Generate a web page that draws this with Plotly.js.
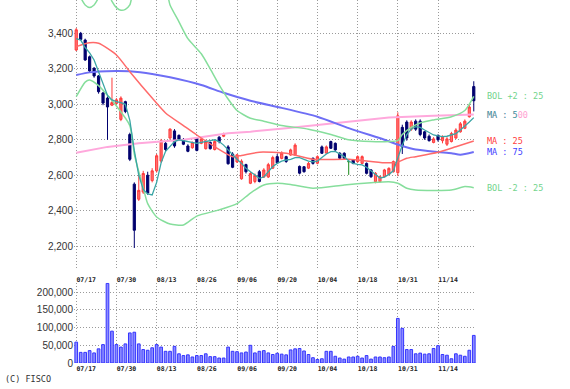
<!DOCTYPE html>
<html><head><meta charset="utf-8">
<script src="https://cdn.plot.ly/plotly-3.0.1.min.js"></script>
<style>html,body{margin:0;padding:0;background:#fff}#chart{width:570px;height:389px}</style>
</head><body><div id="chart"></div>
<script>
// date labels, one every 9 trading days
const tickLabels = ['07/17','07/30','08/13','08/26','09/06','09/20','10/04','10/18','10/31','11/14'];

const openP = [3306,3400,3362,3268,3203,3160,3064,3035,2995,3005,
 2915,3015,2830,2550,2465,2505,2600,2570,2625,2680,
 2780,2810,2850,2825,2800,2765,2755,2810,2780,2750,
 2785,2745,2815,2820,2760,2720,2675,2580,2660,2555,
 2565,2620,2590,2590,2640,2705,2695,2705,2714,2715,
 2650,2648,2640,2696,2668,2760,2725,2790,2780,2724,
 2724,2677,2686,2677,2667,2667,2630,2564,2564,2592,
 2605,2620,2615,2870,2900,2860,2905,2905,2845,2820,
 2785,2825,2795,2775,2790,2810,2845,2865,2930,3100];
const highP = [3430,3408,3370,3275,3210,3165,3070,3045,3150,3035,
 3045,3020,2840,2560,2615,2625,2620,2640,2720,2805,
 2790,2865,2860,2830,2810,2775,2790,2815,2815,2800,
 2790,2800,2820,2840,2770,2730,2720,2690,2665,2620,
 2610,2630,2640,2670,2710,2720,2735,2710,2750,2780,
 2655,2652,2675,2700,2712,2768,2768,2795,2785,2730,
 2730,2686,2690,2712,2712,2672,2635,2618,2598,2636,
 2645,2683,2955,2885,2910,2910,2915,2915,2850,2830,
 2815,2830,2825,2815,2845,2865,2900,2915,3000,3130];
const lowP = [3300,3360,3245,3180,3150,3060,2995,2800,2990,3000,
 2905,2950,2680,2190,2455,2495,2490,2560,2615,2670,
 2735,2800,2755,2795,2770,2730,2750,2735,2775,2745,
 2745,2740,2780,2815,2660,2640,2670,2575,2610,2550,
 2555,2560,2585,2585,2635,2665,2690,2670,2710,2710,
 2605,2615,2635,2660,2662,2720,2720,2748,2738,2690,
 2690,2602,2662,2672,2662,2605,2585,2555,2558,2588,
 2600,2615,2595,2720,2795,2850,2850,2820,2800,2790,
 2780,2790,2780,2765,2785,2805,2840,2860,2925,2960];
const closeP = [3420,3366,3250,3188,3160,3071,3007,2985,3010,3025,
 3035,2960,2690,2290,2515,2610,2500,2625,2710,2795,
 2745,2860,2765,2800,2775,2735,2785,2740,2805,2790,
 2750,2790,2790,2830,2665,2645,2715,2680,2620,2610,
 2600,2565,2630,2660,2700,2670,2725,2678,2743,2770,
 2612,2620,2667,2667,2705,2724,2760,2752,2743,2696,
 2696,2677,2667,2705,2705,2611,2592,2611,2592,2630,
 2639,2677,2935,2760,2810,2900,2860,2830,2810,2795,
 2805,2800,2815,2805,2835,2855,2890,2905,2985,3020];
const volume = [59000,30000,30000,35000,28500,40000,52000,225000,90000,52000,
 45000,54000,85000,87000,54000,38000,36000,43000,52000,45000,
 33000,33000,47000,26000,21000,23000,17000,21000,21000,26000,
 18000,18000,14000,14000,45000,33000,32000,28500,31000,50000,
 28500,33000,35000,28500,24000,27500,25000,23000,37000,40000,
 41000,34000,24000,15000,10000,12000,33000,33000,19000,14000,
 11000,17000,17000,19000,14000,21000,11000,17000,17000,15000,
 17000,47000,126000,98000,38000,38000,26000,28000,25000,26000,
 41000,49000,24000,22000,12000,26000,22000,19000,36000,78000];

// moving average 5 (teal), read at every bar
const ma5 = [3370,3362,3320,3290,3250,3180,3110,3050,3025,3015,
 3010,3000,2910,2740,2600,2520,2495,2489,2560,2670,
 2735,2765,2790,2800,2795,2790,2785,2780,2785,2790,
 2795,2800,2790,2770,2743,2714,2690,2667,2640,2620,
 2600,2583,2590,2620,2649,2667,2680,2686,2690,2700,
 2700,2690,2680,2675,2680,2700,2720,2733,2735,2720,
 2705,2680,2667,2662,2658,2645,2625,2605,2585,2590,
 2605,2625,2700,2770,2830,2860,2874,2870,2855,2840,
 2827,2822,2818,2820,2827,2835,2855,2875,2900,2925];
// moving average 25 (red)
const ma25X = [0,3,5,9,12,17,20,24,27,31,35,37,41,47,53,61,69,72,74,76,81,85,89];
const ma25 = [3325,3347,3344,3278,3184,3035,2951,2880,2827,2761,2705,2712,2730,2724,2690,2690,2670,2675,2696,2705,2730,2761,2793];
// moving average 75 (blue)
const ma75X = [0,3,5,9,12,17,21,28,33,39,46,54,61,69,73,76,81,84,86,89];
const ma75 = [3165,3180,3185,3188,3186,3171,3152,3109,3065,3020,2980,2930,2866,2800,2765,2745,2731,2724,2716,2731];
// moving average 500 (pink)
const ma500X = [0,7,14,24,34,39,47,60,70,80,89];
const ma500 = [2727,2760,2780,2800,2837,2846,2865,2900,2925,2935,2942];
// Bollinger +2 sigma (green)
const bolUpX = [0,1,2,3,4,5,6,7,8,9,10,11,12,13,20,21,23,25,28,30,32,34,36,39,42,46,52,57,61,66,70,72,73,75,77,80,84,87,89];
const bolUp = [3640,3600,3560,3546,3560,3600,3640,3640,3580,3545,3530,3535,3560,3640,3640,3560,3465,3370,3285,3200,3110,3030,2965,2921,2905,2880,2860,2830,2800,2790,2790,2795,2830,2870,2895,2912,2930,2965,3045];
// Bollinger -2 sigma (green)
const bolLoX = [0,2,3,5,9,12,13,14,15,16,18,21,24,27,32,36,39,42,45,48,53,60,66,70,72,74,76,84,87,89];
const bolLo = [3043,3125,3137,3105,2990,2880,2720,2620,2530,2440,2365,2325,2320,2370,2405,2440,2500,2545,2555,2548,2527,2545,2558,2564,2555,2527,2517,2517,2536,2530];

const idx = openP.map((_, i) => i);
const isDoji = i => openP[i] === closeP[i];
const mainIdx = idx.filter(i => !isDoji(i));
const dojiIdx = idx.filter(isDoji);
const pick = (arr, ids) => ids.map(i => arr[i]);

const upRed = '#ff3b3b', downNavy = '#00006e';
const traces = [
  {type:'candlestick', x:mainIdx, open:pick(openP,mainIdx), high:pick(highP,mainIdx), low:pick(lowP,mainIdx), close:pick(closeP,mainIdx),
   xaxis:'x', yaxis:'y', hoverinfo:'skip',
   increasing:{line:{color:upRed, width:1}, fillcolor:'#ff7070'},
   decreasing:{line:{color:downNavy, width:1}, fillcolor:downNavy}},
  {type:'candlestick', x:dojiIdx, open:pick(openP,dojiIdx), high:pick(highP,dojiIdx), low:pick(lowP,dojiIdx), close:pick(closeP,dojiIdx),
   xaxis:'x', yaxis:'y', hoverinfo:'skip',
   increasing:{line:{color:'#1a8a1a', width:1}, fillcolor:'#1a8a1a'},
   decreasing:{line:{color:'#1a8a1a', width:1}, fillcolor:'#1a8a1a'}},
  {type:'scatter', mode:'lines', x:ma500X, y:ma500, line:{color:'#ffa8dc', width:2}, xaxis:'x', yaxis:'y', hoverinfo:'skip'},
  {type:'scatter', mode:'lines', x:ma75X, y:ma75, line:{color:'#6e6ef5', width:2, shape:'spline', smoothing:0.6}, xaxis:'x', yaxis:'y', hoverinfo:'skip'},
  {type:'scatter', mode:'lines', x:ma25X, y:ma25, line:{color:'#ff6a6a', width:1.5, shape:'spline', smoothing:0.6}, xaxis:'x', yaxis:'y', hoverinfo:'skip'},
  {type:'scatter', mode:'lines', x:bolUpX, y:bolUp, line:{color:'#86de9c', width:1.5, shape:'spline', smoothing:0.6}, xaxis:'x', yaxis:'y', hoverinfo:'skip'},
  {type:'scatter', mode:'lines', x:bolLoX, y:bolLo, line:{color:'#86de9c', width:1.5, shape:'spline', smoothing:0.6}, xaxis:'x', yaxis:'y', hoverinfo:'skip'},
  {type:'scatter', mode:'lines', x:idx, y:ma5, line:{color:'#3aa5a5', width:1.3}, xaxis:'x', yaxis:'y', hoverinfo:'skip'},
  {type:'bar', x:idx, y:volume, xaxis:'x2', yaxis:'y2', width:0.6, hoverinfo:'skip',
   marker:{color:'#8c8cff', line:{color:'#3434ff', width:1}}}
];

const tickIdx = tickLabels.map((_, k) => k * 9);
const gridStyle = {showgrid:true, gridcolor:'#9a9a9a', gridwidth:1, griddash:'1px,2px', zeroline:false, showline:false, ticks:''};
const xCommon = Object.assign({}, gridStyle, {
  range:[-0.5, 89.5], tickmode:'array', tickvals:tickIdx, ticktext:tickLabels,
  tickfont:{family:'DejaVu Sans Mono', size:6.5, color:'#222', weight:'bold'},
  ticklabelshift:10, fixedrange:true, rangeslider:{visible:false}
});
const yFont = {family:'Liberation Sans, Arial, sans-serif', size:10, color:'#333'};

// the MA 5 and MA 500 labels share one line in the reference (printed on top of each other)
const sharedMaY = ma500[ma500.length-1];
const legendItems = [
  {text:'BOL +2 : 25', y:bolUp[bolUp.length-1], color:'#72d48c'},
  {text:'MA : 500', y:sharedMaY, color:'#ff9fd2'},
  {text:'MA : 5', y:sharedMaY, color:'#3aa5a5'},
  {text:'MA : 25', y:ma25[ma25.length-1], color:'#ff4040'},
  {text:'MA : 75', y:ma75[ma75.length-1], color:'#4040ff'},
  {text:'BOL -2 : 25', y:bolLo[bolLo.length-1], color:'#72d48c'}
];
const annotations = legendItems.map(it => ({
  xref:'paper', yref:'y', x:1.022, y:it.y, xanchor:'left', yanchor:'middle', showarrow:false,
  text:it.text, font:{family:'DejaVu Sans Mono', size:8.5, color:it.color}
}));
annotations.push({xref:'paper', yref:'paper', x:-0.177, y:-0.043, xanchor:'left', yanchor:'middle', showarrow:false,
  text:'(C) FISCO', font:{family:'DejaVu Sans Mono', size:8.5, color:'#333'}});

const layout = {
  width:570, height:389, margin:{l:74, r:94, t:0, b:26},
  paper_bgcolor:'#ffffff', plot_bgcolor:'#ffffff', showlegend:false,
  xaxis:Object.assign({}, xCommon, {anchor:'y', domain:[0,1], ticklabelstandoff:5}),
  xaxis2:Object.assign({}, xCommon, {anchor:'y2', domain:[0,1], matches:'x'}),
  yaxis:Object.assign({}, gridStyle, {domain:[0.2562,1], range:[2066,3588], dtick:200, tick0:2200, tickformat:',d', tickfont:yFont, fixedrange:true}),
  yaxis2:Object.assign({}, gridStyle, {domain:[0,0.2212], range:[0,227000], dtick:50000, tickformat:',d', tickfont:yFont, fixedrange:true}),
  annotations:annotations,
  boxgap:0.3
};
Plotly.newPlot('chart', traces, layout, {displayModeBar:false, staticPlot:true});
</script>
</body></html>
